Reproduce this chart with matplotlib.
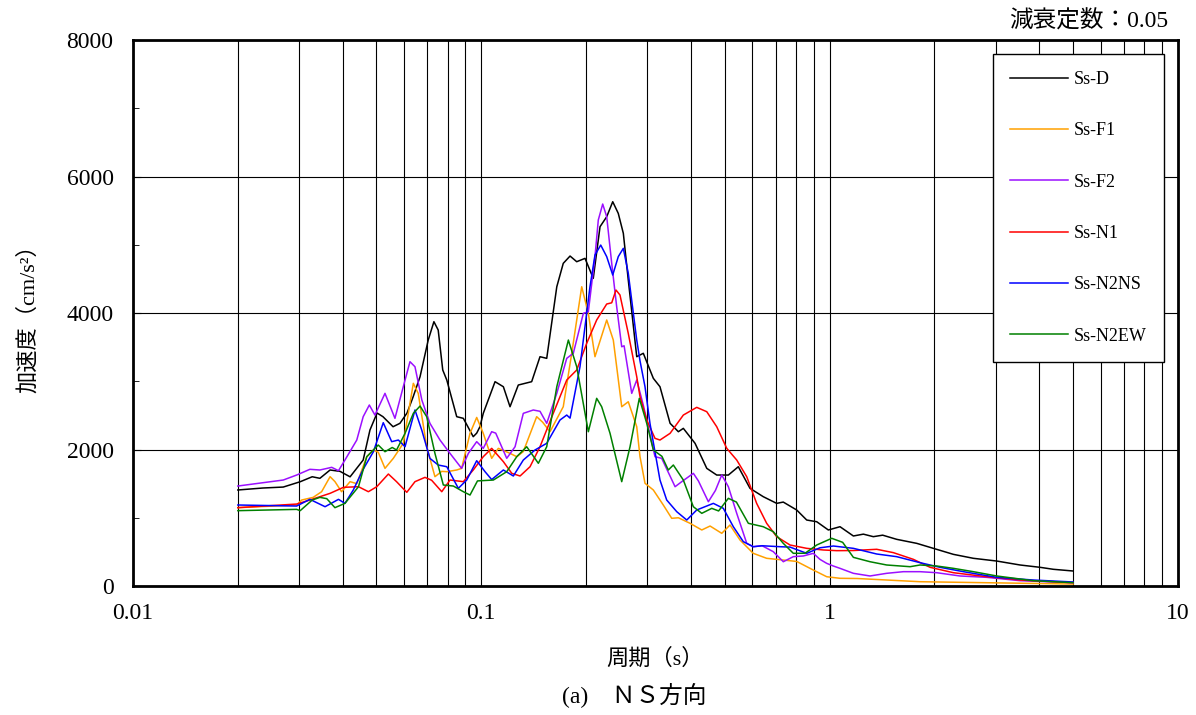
import matplotlib.pyplot as plt
from matplotlib.ticker import LogLocator, MultipleLocator, NullFormatter, FixedFormatter, FixedLocator

# Ss-D
t_d = [0.020, 0.0236, 0.027, 0.0302, 0.0327, 0.0344, 0.0368, 0.0393, 0.042, 0.0458, 0.0479,
       0.0502, 0.0522, 0.0558, 0.0584, 0.0612, 0.0637, 0.0667, 0.0704, 0.0731, 0.0752, 0.0775,
       0.0796, 0.085, 0.0888, 0.0948, 0.097, 0.0991, 0.1013, 0.1095, 0.1157, 0.1209, 0.1277,
       0.1395, 0.1474, 0.1541, 0.1647, 0.1719, 0.1798, 0.1879, 0.1985, 0.2096, 0.2192, 0.2291,
       0.2384, 0.2473, 0.2557, 0.2642, 0.2794, 0.2918, 0.3118, 0.3258, 0.3483, 0.3679, 0.3802,
       0.4108, 0.4439, 0.4741, 0.512, 0.5468, 0.5908, 0.6448, 0.7047, 0.736, 0.8043, 0.8594,
       0.9183, 0.9915, 1.071, 1.17, 1.25, 1.335, 1.42, 1.558, 1.779, 1.985, 2.266, 2.586,
       3.018, 3.522, 4.019, 4.387, 5.0]
a_d = [1407, 1436, 1450, 1528, 1601, 1578, 1700, 1680, 1600, 1846, 2286,
       2535, 2481, 2334, 2384, 2535, 2770, 3067, 3604, 3873, 3751, 3165,
       3018, 2481, 2457, 2188, 2240, 2334, 2530, 2994, 2920, 2627, 2945,
       2994, 3360, 3336, 4385, 4728, 4835, 4752, 4801, 4508, 5265, 5411,
       5631, 5460, 5168, 4484, 3360, 3410, 3043, 2920, 2384, 2261, 2310,
       2091, 1724, 1626, 1626, 1748, 1431, 1309, 1211, 1230, 1114, 967,
       942, 821, 869, 733, 760, 723, 745, 684, 625, 552, 464, 406,
       366, 308, 274, 245, 220]

# Ss-F1
t_f1 = [0.020, 0.0295, 0.0305, 0.0329, 0.0348, 0.0368, 0.038, 0.0397, 0.042, 0.0439, 0.0469,
        0.049, 0.0506, 0.0529, 0.0559, 0.0597, 0.0638, 0.0659, 0.0697, 0.0736, 0.077, 0.0796,
        0.085, 0.0878, 0.0928, 0.097, 0.1013, 0.1071, 0.1119, 0.1209, 0.1264, 0.132, 0.1442,
        0.150, 0.1575, 0.1719, 0.1818, 0.1942, 0.2029, 0.212, 0.2291, 0.2393, 0.253, 0.2642,
        0.2794, 0.2855, 0.2951, 0.3118, 0.333, 0.3521, 0.3679, 0.3974, 0.4295, 0.4537, 0.4901,
        0.5176, 0.553, 0.6035, 0.6595, 0.7362, 0.8043, 0.8979, 0.981, 1.071, 1.2, 1.818, 5.0]
a_f1 = [1148, 1187, 1260, 1299, 1382, 1602, 1530, 1382, 1529, 1500, 1895,
        1993, 1960, 1724, 1871, 2091, 2970, 2823, 2041, 1602, 1680, 1675,
        1700, 1724, 2237, 2470, 2237, 1871, 2017, 1944, 1895, 1970, 2481,
        2400, 2261, 2627, 3410, 4385, 3995, 3360, 3898, 3604, 2627, 2700,
        2334, 1895, 1505, 1407, 1187, 992, 1000, 919, 821, 879, 772,
        894, 674, 479, 406, 381, 360, 234, 136, 113, 110, 63, 29]

# Ss-F2
t_f2 = [0.020, 0.027, 0.0295, 0.0322, 0.0344, 0.0372, 0.0389, 0.0406, 0.0439, 0.0458, 0.0477,
        0.0495, 0.0529, 0.0565, 0.0597, 0.0624, 0.0645, 0.0675, 0.0712, 0.0761, 0.0813, 0.0878,
        0.0918, 0.097, 0.1013, 0.1071, 0.11, 0.1183, 0.125, 0.132, 0.141, 0.1474, 0.1541,
        0.1647, 0.1759, 0.1837, 0.1963, 0.2029, 0.212, 0.2167, 0.2231, 0.2291, 0.2368, 0.2447,
        0.253, 0.257, 0.2703, 0.2794, 0.2918, 0.2985, 0.3152, 0.3295, 0.36, 0.3762, 0.4062,
        0.42, 0.4486, 0.47, 0.4901, 0.512, 0.5411, 0.5781, 0.6035, 0.64, 0.6891, 0.7362,
        0.7866, 0.84, 0.8979, 0.9384, 0.981, 1.025, 1.071, 1.17, 1.306, 1.458, 1.628, 1.818,
        2.03, 2.368, 2.826, 3.522, 5.0]
a_f2 = [1465, 1553, 1626, 1710, 1700, 1739, 1690, 1846, 2139, 2481, 2652,
        2505, 2823, 2457, 2920, 3287, 3213, 2725, 2384, 2139, 1944, 1724,
        1944, 2115, 2017, 2261, 2240, 1871, 2041, 2530, 2579, 2560, 2384,
        2823, 3336, 3410, 3995, 4020, 4826, 5363, 5597, 5411, 4728, 4093,
        3506, 3520, 2823, 3018, 2650, 2432, 1895, 1871, 1455, 1529, 1651,
        1540, 1235, 1400, 1626, 1455, 1065, 625, 576, 590, 503, 356,
        430, 440, 479, 390, 332, 293, 259, 186, 147, 186, 210, 210,
        195, 147, 127, 78, 49]

# Ss-N1
t_n1 = [0.020, 0.0295, 0.0322, 0.0368, 0.0402, 0.0444, 0.0474, 0.0501, 0.0541, 0.0571, 0.0611,
        0.0645, 0.0689, 0.072, 0.077, 0.0813, 0.0888, 0.0948, 0.1013, 0.1071, 0.1157, 0.1223,
        0.1292, 0.138, 0.1474, 0.1609, 0.1759, 0.1879, 0.2007, 0.2144, 0.2291, 0.2368, 0.2436,
        0.2501, 0.2642, 0.2794, 0.2855, 0.2985, 0.3152, 0.3258, 0.3483, 0.3802, 0.4154, 0.4439,
        0.4741, 0.5066, 0.5411, 0.5781, 0.6173, 0.6595, 0.7047, 0.7695, 0.8594, 0.9591, 1.048,
        1.17, 1.365, 1.524, 1.739, 1.943, 2.266, 2.826, 3.522, 5.0]
a_n1 = [1148, 1201, 1260, 1358, 1446, 1455, 1382, 1455, 1641, 1529, 1373,
        1529, 1592, 1550, 1382, 1553, 1529, 1700, 1895, 2017, 1822, 1651,
        1612, 1748, 2041, 2530, 3018, 3165, 3556, 3898, 4132, 4150, 4337,
        4264, 3702, 3067, 2774, 2432, 2164, 2139, 2237, 2505, 2618, 2554,
        2334, 2017, 1846, 1602, 1211, 919, 723, 601, 552, 528, 518,
        520, 538, 489, 391, 274, 195, 136, 88, 49]

# Ss-N2NS
t_ns = [0.020, 0.0295, 0.0322, 0.0356, 0.0389, 0.0406, 0.0429, 0.0458, 0.049, 0.0523, 0.0553,
        0.0578, 0.0604, 0.0645, 0.0675, 0.0712, 0.0752, 0.0796, 0.0859, 0.0908, 0.097, 0.1025,
        0.1071, 0.1157, 0.1236, 0.132, 0.1426, 0.1541, 0.1682, 0.1759, 0.1798, 0.192, 0.2051,
        0.212, 0.2202, 0.2291, 0.2384, 0.2473, 0.2557, 0.2642, 0.2794, 0.2855, 0.2951, 0.305,
        0.3258, 0.3406, 0.364, 0.3889, 0.4154, 0.4637, 0.4953, 0.5291, 0.5652, 0.6035, 0.64,
        0.7203, 0.77, 0.8594, 0.9384, 1.025, 1.17, 1.365, 1.558, 1.818, 2.075, 2.421, 3.018,
        3.837, 5.0]
a_ns = [1187, 1172, 1270, 1162, 1270, 1211, 1407, 1710, 1968, 2393, 2115,
        2139, 2041, 2579, 2280, 1870, 1773, 1748, 1431, 1553, 1836, 1675,
        1560, 1700, 1612, 1846, 1993, 2091, 2432, 2505, 2460, 3213, 4385,
        4850, 4996, 4826, 4557, 4826, 4948, 4582, 3604, 3300, 2920, 2380,
        1553, 1260, 1089, 967, 1114, 1211, 1138, 869, 650, 576, 590,
        576, 570, 479, 560, 586, 552, 469, 430, 342, 274, 210, 127,
        88, 59]

# Ss-N2EW
t_ew = [0.020, 0.0295, 0.0302, 0.0327, 0.0344, 0.036, 0.038, 0.0406, 0.0444, 0.0469, 0.0506,
        0.0529, 0.0555, 0.0571, 0.0604, 0.0638, 0.0667, 0.0697, 0.0736, 0.0778, 0.0831, 0.0888,
        0.0928, 0.0975, 0.1083, 0.1183, 0.1264, 0.135, 0.1458, 0.1541, 0.1647, 0.1778, 0.1879,
        0.2029, 0.2144, 0.2216, 0.2342, 0.253, 0.2673, 0.2842, 0.2985, 0.3118, 0.33, 0.3442,
        0.3559, 0.3802, 0.4062, 0.4295, 0.4588, 0.48, 0.512, 0.54, 0.5843, 0.6448, 0.6891,
        0.7362, 0.7866, 0.85, 0.9183, 1.014, 1.09, 1.17, 1.306, 1.458, 1.702, 1.818, 2.03,
        2.266, 2.586, 3.018, 3.837, 5.0]
a_ew = [1104, 1123, 1104, 1260, 1299, 1280, 1148, 1211, 1455, 1895, 2066,
        1968, 2030, 1993, 2237, 2530, 2637, 2481, 1944, 1480, 1465, 1382,
        1333, 1540, 1553, 1675, 1895, 2041, 1798, 2041, 2920, 3604, 3213,
        2261, 2750, 2627, 2237, 1529, 2041, 2750, 2384, 1993, 1900, 1700,
        1773, 1553, 1162, 1065, 1138, 1100, 1285, 1230, 919, 869, 796,
        625, 479, 480, 601, 699, 640, 420, 356, 308, 283, 308, 293,
        259, 210, 147, 78, 49]

series = [
    ("Ss-D", t_d, a_d, "black"),
    ("Ss-F1", t_f1, a_f1, "#FFA000"),
    ("Ss-F2", t_f2, a_f2, "#9B10FF"),
    ("Ss-N1", t_n1, a_n1, "#FF0000"),
    ("Ss-N2NS", t_ns, a_ns, "#0000FF"),
    ("Ss-N2EW", t_ew, a_ew, "#008000"),
]

fonts = ['Liberation Serif', 'Noto Sans CJK JP']
plt.rcParams['font.family'] = fonts

fig = plt.figure(figsize=(11.96, 7.15), dpi=100)
ax = fig.add_axes([0.1112, 0.1804, 0.8737, 0.7636])

for name, t, a, c in series:
    ax.plot(t, a, color=c, lw=1.1, label=name)

ax.set_xscale('log')
ax.set_xlim(0.01, 10)
ax.set_ylim(0, 8000)
ax.xaxis.set_major_locator(FixedLocator([0.01, 0.1, 1, 10]))
ax.xaxis.set_major_formatter(FixedFormatter(['0.01', '0.1', '1', '10']))
ax.xaxis.set_minor_locator(LogLocator(base=10, subs=range(2, 10)))
ax.xaxis.set_minor_formatter(NullFormatter())
ax.yaxis.set_major_locator(MultipleLocator(2000))
ax.yaxis.set_minor_locator(MultipleLocator(1000))

ax.grid(True, which='both', axis='x', color='black', lw=0.8)
ax.grid(True, which='major', axis='y', color='black', lw=0.8)
ax.tick_params(axis='both', which='both', direction='in', labelsize=17)
ax.tick_params(axis='y', which='major', length=6, pad=14)
ax.tick_params(axis='y', which='minor', length=4)
ax.tick_params(axis='x', which='both', length=0, pad=12)
for s in ax.spines.values():
    s.set_linewidth(2)

leg = ax.legend(loc='upper right', bbox_to_anchor=(0.9866, 0.9744), borderaxespad=0,
                fontsize=13, labelspacing=1.9, handlelength=3.2, handletextpad=0.35,
                borderpad=0.95, fancybox=False, framealpha=1)
leg.get_frame().set_edgecolor('black')
leg.get_frame().set_linewidth(1.0)

ax.set_xlabel('周期（s）', fontsize=16, labelpad=18)
ax.set_ylabel('加速度（cm/s²）', fontsize=16, labelpad=20)
fig.text(0.977, 0.970, '減衰定数：0.05', ha='right', va='center', fontsize=17)
fig.text(0.53, 0.028, '(a)　ＮＳ方向', ha='center', va='center', fontsize=17)

fig.savefig('out.png', dpi=100)
